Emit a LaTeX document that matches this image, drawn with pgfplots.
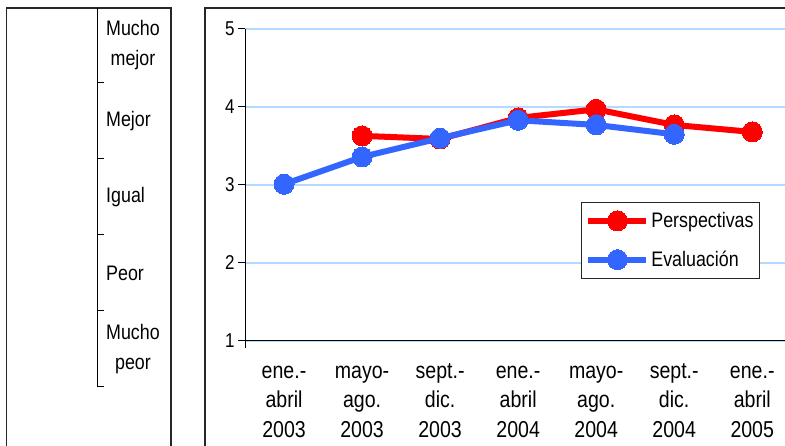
\documentclass[border=0pt]{standalone}
\usepackage{fontspec}
\setmainfont{Liberation Sans}[FakeStretch=0.85]
\usepackage{pgfplots}
\pgfplotsset{compat=1.18}
\definecolor{persp}{HTML}{FF0000}
\definecolor{evalc}{HTML}{3366FF}
\definecolor{gridc}{HTML}{B4DAFF}
\newcommand{\chfont}{\fontsize{21bp}{30bp}\selectfont}
\newcommand{\xfont}{\fontsize{23bp}{29.5bp}\selectfont}
\newcommand{\yfont}{\fontsize{20bp}{24bp}\selectfont}
\newcommand{\xl}[3]{\vphantom{A}#1\\#2\\#3}

\begin{document}
\begin{tikzpicture}[x=1bp,y=1bp,font=\chfont]
\path[use as bounding box] (0,0) rectangle (785,446);
% frames round the two panels
\draw[line width=1.5bp, black!85] (6.5,-2) -- (6.5,438) -- (171,438) -- (171,-2);
\draw[line width=1.5bp, black!85] (205,-2) -- (205,438) -- (786,438);
% verbal scale on the left
\draw[line width=1bp] (104,59) -- (97,59) -- (97,438);
\foreach \yy in {135,211,287,363} \draw[line width=1bp] (97,\yy) -- (104,\yy);
\node[anchor=west, align=center, inner sep=0pt] at (106,401) {Mucho\\mejor};
\node[anchor=west, inner sep=0pt] at (106,325) {Mejor};
\node[anchor=west, inner sep=0pt] at (106,249) {Igual};
\node[anchor=west, inner sep=0pt] at (106,173) {Peor};
\node[anchor=west, align=center, inner sep=0pt] at (106,97) {Mucho\\peor};

\begin{axis}[
    at={(245bp,105bp)}, anchor=south west,
    scale only axis, width=540bp, height=312bp,
    xmin=-0.5, xmax=6.42, ymin=1, ymax=5,
    axis x line*=bottom, axis y line*=left,
    axis line style={-, line width=1bp, black},
    ytick={1,2,3,4,5},
    xtick={0,...,6},
    xticklabels={{\xl{ene.-}{abril}{2003}},{\xl{mayo-}{ago.}{2003}},{\xl{sept.-}{dic.}{2003}},{\xl{ene.-}{abril}{2004}},{\xl{mayo-}{ago.}{2004}},{\xl{sept.-}{dic.}{2004}},{\xl{ene.-}{abril}{2005}}},
    x tick label style={align=center, font=\xfont, yshift=-11bp},
    y tick label style={font=\yfont},
    /pgf/number format/assume math mode=true,
    tick align=outside, major tick length=7bp,
    ytick style={black, line width=1bp},
    xtick style={draw=none},
    extra x ticks={-0.5}, extra x tick labels={},
    extra x tick style={xtick style={draw=black, line width=1bp}},
    ymajorgrids, grid style={gridc, line width=1.2bp},
    legend style={at={(0.622,0.4455)}, anchor=north west, draw=black!85,
        line width=1bp, font=\chfont, inner xsep=4bp, inner ysep=8bp,
        row sep=18bp},
    legend cell align=left,
    legend image code/.code={\draw[mark repeat=2,mark phase=2] plot coordinates {(0bp,0bp) (29bp,0bp) (58bp,0bp)};},
]
\addplot[persp, line width=6bp, mark=*, mark size=10bp,
    mark options={fill=persp, draw=persp, line width=0bp}]
    coordinates {(1,3.63) (2,3.59) (3,3.86) (4,3.97) (5,3.77) (6,3.68)};
\addlegendentry{Perspectivas}
\addplot[evalc, line width=6bp, mark=*, mark size=10bp,
    mark options={fill=evalc, draw=evalc, line width=0bp}]
    coordinates {(0,3.01) (1,3.36) (2,3.60) (3,3.83) (4,3.77) (5,3.65)};
\addlegendentry{Evaluación}
\end{axis}
\end{tikzpicture}
\end{document}
